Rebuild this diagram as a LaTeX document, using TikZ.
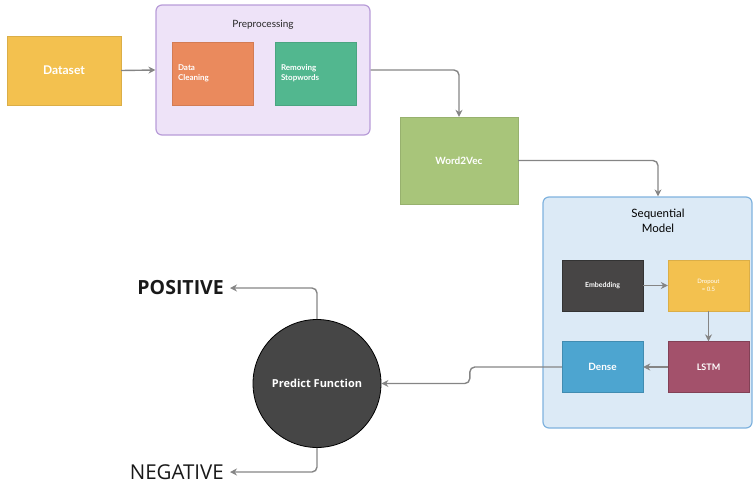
\documentclass[tikz,border=0pt]{standalone}
\usepackage{fontspec}
\setmainfont{Lato}
\newfontfamily\osans{Open Sans}
\usetikzlibrary{arrows.meta,calc}
\definecolor{cyel}{HTML}{F3C14F}
\definecolor{corg}{HTML}{EA8A5D}
\definecolor{cgrn}{HTML}{52B78F}
\definecolor{cprefill}{HTML}{EEE3F8}
\definecolor{cpreline}{HTML}{B89CD8}
\definecolor{cw2v}{HTML}{A8C57A}
\definecolor{cseqfill}{HTML}{DCEAF6}
\definecolor{cseqline}{HTML}{7FB2DE}
\definecolor{cemb}{HTML}{474545}
\definecolor{clstm}{HTML}{A3516B}
\definecolor{cdense}{HTML}{4DA5D0}
\definecolor{ccirc}{HTML}{464646}
\definecolor{carrow}{HTML}{858585}
\tikzset{
  blk/.style={rectangle, inner sep=0pt, text=white, align=center, font=\bfseries},
  smallblk/.style={blk, minimum width=81pt, minimum height=51pt},
  conn/.style={draw=carrow, line width=1.4pt, rounded corners=5pt,
    -{Stealth[length=7pt,width=7pt]}},
  outlbl/.style={inner xsep=6pt, inner ysep=0pt, anchor=east, text=black!90, font=\osans\fontsize{20.5}{22}\selectfont}
}
\begin{document}
\begin{tikzpicture}[x=1pt,y=-1pt]
\useasboundingbox (0,0) rectangle (754,485);
% Dataset
\node[blk, fill=cyel, draw=cyel!90!black, minimum width=114pt, minimum height=69pt,
  font=\bfseries\fontsize{12}{14}\selectfont] (ds) at (64,70.5) {Dataset};
% Preprocessing container
\node[rectangle, rounded corners=6pt, fill=cprefill, draw=cpreline, line width=1.2pt,
  minimum width=214pt, minimum height=130pt] (pre) at (263,70) {};
\node[font=\fontsize{10}{12}\selectfont, text=black!85] (pretitle) at (263,25) {Preprocessing};
\node[blk, fill=corg, draw=corg!90!black, minimum height=63pt, text width=69pt, inner xsep=6pt,
  align=left, font=\bfseries\fontsize{8}{10}\selectfont] (dc) at (212.5,73.5) {Data\\Cleaning};
\node[blk, fill=cgrn, draw=cgrn!90!black, minimum height=63pt, text width=69pt, inner xsep=6pt,
  align=left, font=\bfseries\fontsize{8}{10}\selectfont] (rs) at (315.5,73.5) {Removing\\Stopwords};
% Word2Vec
\node[blk, fill=cw2v, draw=cw2v!90!black, minimum width=118pt, minimum height=87pt,
  font=\bfseries\fontsize{10}{12}\selectfont] (w2v) at (459,160.5) {Word2Vec};
% Sequential model container
\node[rectangle, rounded corners=6pt, fill=cseqfill, draw=cseqline, line width=1.2pt,
  minimum width=209pt, minimum height=231pt] (seq) at (647.5,312.5) {};
\node[align=center, font=\fontsize{11.5}{14.5}\selectfont, text=black] (seqtitle) at (658,221) {Sequential\\Model};
\node[smallblk, fill=cemb, draw=black!80, font=\bfseries\fontsize{7}{9}\selectfont] (emb) at (602.5,285.5) {Embedding};
\node[smallblk, fill=cyel, draw=cyel!90!black, font=\fontsize{6}{8}\selectfont] (drop) at (708.5,285.5) {Dropout\\= 0.5};
\node[smallblk, fill=clstm, draw=clstm!80!black, font=\bfseries\fontsize{9}{11}\selectfont] (lstm) at (708.5,367) {LSTM};
\node[smallblk, fill=cdense, draw=cdense!85!black, font=\bfseries\fontsize{10}{12}\selectfont] (dense) at (602.5,367) {Dense};
% Predict function
\node[circle, fill=ccirc, draw=black, line width=0.8pt, minimum size=128pt, inner sep=0pt,
  text=white, font=\osans\bfseries\fontsize{11}{13}\selectfont] (pf) at (317,383.5) {Predict Function};
% outputs
\node[outlbl, font=\osans\bfseries\fontsize{19.5}{22}\selectfont] (pos) at (230,288) {POSITIVE};
\node[outlbl] (neg) at (230,472) {NEGATIVE};
% connectors
\draw[conn] (ds.east) -- (pre.west);
\draw[conn] (pre.east) -| (w2v.north);
\draw[conn] (w2v.east) -| ($(seq.north)+(10.5,0)$);
\draw[conn] (emb.east) -- (drop.west);
\draw[conn] (drop.south) -- (lstm.north);
\draw[conn] (lstm.west) -- (dense.east);
\draw[conn] (dense.west) -- ++(-92,0) |- (pf.east);
\draw[conn] (pf.north) |- (pos.east);
\draw[conn] (pf.south) |- (neg.east);
\end{tikzpicture}
\end{document}
